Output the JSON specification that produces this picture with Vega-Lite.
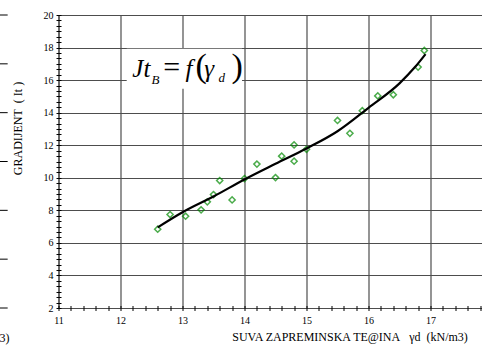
{
  "$schema": "https://vega.github.io/schema/vega-lite/v6.json",
  "width": 434,
  "height": 293,
  "autosize": {"type": "none"},
  "padding": {"left": 58.5, "top": 15, "right": 0, "bottom": 37},
  "background": "white",
  "config": {
    "view": {"stroke": "#333", "strokeWidth": 1},
    "axis": {
      "labelFont": "Liberation Serif",
      "labelFontSize": 10,
      "labelColor": "black",
      "titleFont": "Liberation Serif",
      "titleFontSize": 12,
      "titleFontWeight": "normal",
      "titleColor": "black",
      "tickColor": "black",
      "tickWidth": 1,
      "domain": false,
      "labelOverlap": false,
      "labelFlush": false
    }
  },
  "datasets": {
    "measured": [
      {"g": 12.6, "jt": 6.84}, {"g": 12.8, "jt": 7.74}, {"g": 13.05, "jt": 7.64},
      {"g": 13.3, "jt": 8.03}, {"g": 13.4, "jt": 8.52}, {"g": 13.5, "jt": 8.97},
      {"g": 13.6, "jt": 9.83}, {"g": 13.8, "jt": 8.64}, {"g": 14.0, "jt": 9.95},
      {"g": 14.2, "jt": 10.84}, {"g": 14.5, "jt": 10.01}, {"g": 14.6, "jt": 11.33},
      {"g": 14.8, "jt": 12.02}, {"g": 14.8, "jt": 11.02}, {"g": 15.0, "jt": 11.75},
      {"g": 15.5, "jt": 13.52}, {"g": 15.7, "jt": 12.73}, {"g": 15.9, "jt": 14.12},
      {"g": 16.15, "jt": 15.03}, {"g": 16.4, "jt": 15.1}, {"g": 16.8, "jt": 16.8},
      {"g": 16.9, "jt": 17.82}
    ],
    "fit": [
      {"g": 12.6, "jt": 6.95}, {"g": 13.0, "jt": 7.88}, {"g": 13.5, "jt": 8.85},
      {"g": 14.0, "jt": 9.9}, {"g": 14.5, "jt": 10.86}, {"g": 15.0, "jt": 11.8},
      {"g": 15.5, "jt": 12.86}, {"g": 16.0, "jt": 14.3}, {"g": 16.5, "jt": 15.8},
      {"g": 16.75, "jt": 16.8}, {"g": 16.92, "jt": 17.6}
    ],
    "frag": [
      {"jt": 20}, {"jt": 17}, {"jt": 14}, {"jt": 11}, {"jt": 8}, {"jt": 5}, {"jt": 2}
    ]
  },
  "layer": [
    {
      "data": {"name": "measured"},
      "mark": {"type": "point", "shape": "diamond", "filled": false, "stroke": "#008a00", "strokeWidth": 1.5, "size": 38},
      "encoding": {
        "x": {
          "field": "g", "type": "quantitative",
          "scale": {"domain": [11, 18], "nice": false, "zero": false},
          "axis": {
            "title": "SUVA ZAPREMINSKA TE@INA\u00a0\u00a0\u00a0γd\u00a0\u00a0(kN/m3)",
            "values": [11,11.2,11.4,11.6,11.8,12,12.2,12.4,12.6,12.8,13,13.2,13.4,13.6,13.8,14,14.2,14.4,14.6,14.8,15,15.2,15.4,15.6,15.8,16,16.2,16.4,16.6,16.8,17,17.2,17.4,17.6,17.8,18],
            "tickCount": 200,
            "labelExpr": "abs(datum.value - round(datum.value)) < 0.01 && datum.value < 17.5 ? format(round(datum.value), 'd') : ''",
            "offset": -2.5,
            "tickSize": 5,
            "labelPadding": 5,
            "grid": true,
            "gridWidth": 1.2,
            "gridOpacity": 1,
            "gridColor": {"condition": {"test": "abs(datum.value - round(datum.value)) < 0.01", "value": "#4d4d4d"}, "value": "rgba(0,0,0,0)"},
            "titleX": 291,
            "titleY": 34.5,
            "titleAlign": "center",
            "titleBaseline": "alphabetic"
          }
        },
        "y": {
          "field": "jt", "type": "quantitative",
          "scale": {"domain": [2, 20], "nice": false, "zero": false},
          "axis": {
            "title": "GRADIJENT\u00a0\u00a0(\u00a0It\u00a0)",
            "values": [2,2.333,2.667,3,3.333,3.667,4,4.333,4.667,5,5.333,5.667,6,6.333,6.667,7,7.333,7.667,8,8.333,8.667,9,9.333,9.667,10,10.333,10.667,11,11.333,11.667,12,12.333,12.667,13,13.333,13.667,14,14.333,14.667,15,15.333,15.667,16,16.333,16.667,17,17.333,17.667,18,18.333,18.667,19,19.333,19.667,20],
            "tickCount": 200,
            "labelExpr": "abs(datum.value / 2 - round(datum.value / 2)) < 0.01 ? format(round(datum.value), 'd') : ''",
            "offset": -2.5,
            "tickSize": 5,
            "labelPadding": 3,
            "grid": true,
            "gridWidth": 1.2,
            "gridOpacity": 1,
            "gridColor": {"condition": {"test": "abs(datum.value / 2 - round(datum.value / 2)) < 0.01", "value": "#4d4d4d"}, "value": "rgba(0,0,0,0)"},
            "titleX": -44,
            "titleY": 113,
            "titleAngle": -90,
            "titleAlign": "center",
            "titleBaseline": "middle"
          }
        }
      }
    },
    {
      "data": {"name": "fit"},
      "mark": {"type": "line", "interpolate": "monotone", "stroke": "black", "strokeWidth": 2.2},
      "encoding": {
        "x": {"field": "g", "type": "quantitative"},
        "y": {"field": "jt", "type": "quantitative"}
      }
    },
    {
      "data": {"name": "frag"},
      "mark": {"type": "rule", "stroke": "black", "strokeWidth": 1, "clip": false},
      "encoding": {
        "x": {"datum": 10.048},
        "x2": {"datum": 10.18},
        "y": {"field": "jt", "type": "quantitative"}
      }
    },
    {
      "data": {"values": [{}]},
      "mark": {"type": "text", "text": "3)", "font": "Liberation Serif", "fontSize": 12, "align": "left", "baseline": "alphabetic", "clip": false},
      "encoding": {"x": {"datum": 10.048}, "y": {"datum": -0.11}}
    },
    {
      "data": {"values": [{}]},
      "mark": {"type": "rect", "fill": "white", "stroke": null},
      "encoding": {"x": {"datum": 12.1}, "x2": {"datum": 13.96}, "y": {"datum": 17.93}, "y2": {"datum": 15.47}}
    },
    {
      "data": {"values": [{}]},
      "mark": {"type": "text", "text": "Jt", "font": "Liberation Serif", "fontStyle": "italic", "fontSize": 25, "align": "left", "baseline": "alphabetic"},
      "encoding": {"x": {"datum": 12.19}, "y": {"datum": 16.19}}
    },
    {
      "data": {"values": [{}]},
      "mark": {"type": "text", "text": "B", "font": "Liberation Serif", "fontStyle": "italic", "fontSize": 13, "align": "left", "baseline": "alphabetic"},
      "encoding": {"x": {"datum": 12.5}, "y": {"datum": 15.76}}
    },
    {
      "data": {"values": [{}]},
      "mark": {"type": "text", "text": "=", "font": "Liberation Serif", "fontSize": 30, "align": "left", "baseline": "alphabetic"},
      "encoding": {"x": {"datum": 12.69}, "y": {"datum": 16.19}}
    },
    {
      "data": {"values": [{}]},
      "mark": {"type": "text", "text": "f", "font": "Liberation Serif", "fontStyle": "italic", "fontSize": 25, "align": "left", "baseline": "alphabetic"},
      "encoding": {"x": {"datum": 13.05}, "y": {"datum": 16.19}}
    },
    {
      "data": {"values": [{}]},
      "mark": {"type": "text", "text": "(", "font": "Liberation Serif", "fontSize": 34, "align": "left", "baseline": "alphabetic"},
      "encoding": {"x": {"datum": 13.21}, "y": {"datum": 16.21}}
    },
    {
      "data": {"values": [{}]},
      "mark": {"type": "text", "text": "γ", "font": "Liberation Serif", "fontStyle": "italic", "fontSize": 25, "align": "left", "baseline": "alphabetic"},
      "encoding": {"x": {"datum": 13.35}, "y": {"datum": 16.19}}
    },
    {
      "data": {"values": [{}]},
      "mark": {"type": "text", "text": "d", "font": "Liberation Serif", "fontStyle": "italic", "fontSize": 13, "align": "left", "baseline": "alphabetic"},
      "encoding": {"x": {"datum": 13.58}, "y": {"datum": 15.86}}
    },
    {
      "data": {"values": [{}]},
      "mark": {"type": "text", "text": ")", "font": "Liberation Serif", "fontSize": 34, "align": "left", "baseline": "alphabetic"},
      "encoding": {"x": {"datum": 13.79}, "y": {"datum": 16.21}}
    }
  ]
}
